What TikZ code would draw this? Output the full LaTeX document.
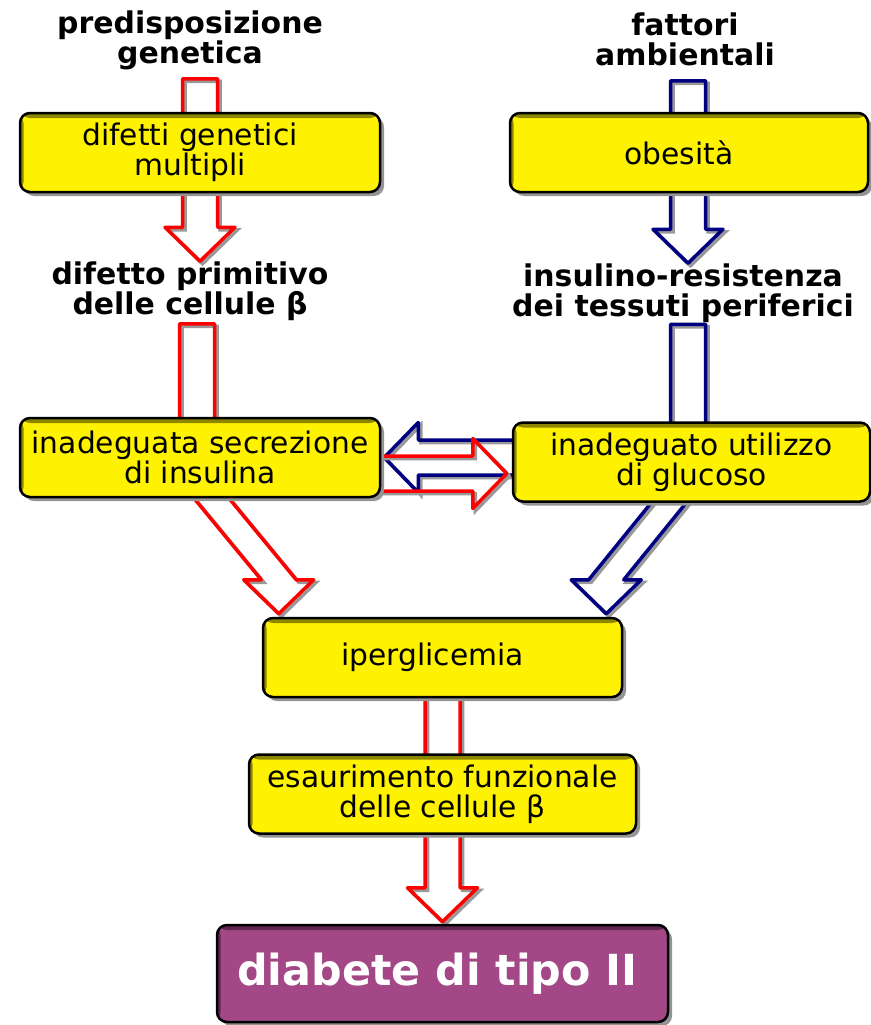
\documentclass[tikz,border=0pt]{standalone}
\usepackage{fontspec}
\setmainfont{DejaVu Sans}
\usepackage{tikz}
\usetikzlibrary{positioning,calc,shadows,backgrounds}

\definecolor{boxyellow}{RGB}{255,242,0}
\definecolor{boxedge}{RGB}{140,134,0}
\definecolor{endpurple}{RGB}{164,71,134}
\definecolor{endedge}{RGB}{96,38,80}
\definecolor{arrowred}{RGB}{255,0,0}
\definecolor{arrowblue}{RGB}{0,0,128}

\newcommand{\shafthalf}{17.5pt}
\newcommand{\headhalf}{35pt}
\newcommand{\headlen}{34pt}
\newcommand{\lpad}[1]{#1\hspace*{20pt}}

% straight hollow arrow: style, start, tip
\newcommand{\fatarrow}[3]{
  \coordinate (fa-s) at #2;
  \coordinate (fa-t) at #3;
  \coordinate (fa-h) at ($(fa-t)!\headlen!(fa-s)$);
  \draw[#1] ($(fa-s)!\shafthalf!90:(fa-t)$) -- ($(fa-h)!\shafthalf!90:(fa-t)$)
    -- ($(fa-h)!\headhalf!90:(fa-t)$) -- (fa-t) -- ($(fa-h)!\headhalf!-90:(fa-t)$)
    -- ($(fa-h)!\shafthalf!-90:(fa-t)$) -- ($(fa-s)!\shafthalf!-90:(fa-t)$) -- cycle;
}
% slanted shaft, head pointing straight down
\newcommand{\bentarrow}[3]{
  \coordinate (ba-s) at #2;
  \coordinate (ba-t) at #3;
  \coordinate (ba-h) at ($(ba-t)+(0pt,\headlen)$);
  \draw[#1] ($(ba-s)+(-\shafthalf,0pt)$) -- ($(ba-h)+(-\shafthalf,0pt)$)
    -- ($(ba-h)+(-\headhalf,0pt)$) -- (ba-t) -- ($(ba-h)+(\headhalf,0pt)$)
    -- ($(ba-h)+(\shafthalf,0pt)$) -- ($(ba-s)+(\shafthalf,0pt)$) -- cycle;
}

\begin{document}
\begin{tikzpicture}[x=1pt,y=-1pt,
lab/.style={font=\fontsize{29.9}{30}\selectfont\bfseries,align=center,inner sep=0pt},
edgeshade/.style={path picture={
    \fill[#1] (path picture bounding box.north west) rectangle ([yshift=-5pt]path picture bounding box.north east);
    \fill[#1] (path picture bounding box.north west) rectangle ([xshift=3.5pt]path picture bounding box.south west);}},
box/.style={draw=black,line width=2.5pt,rounded corners=10pt,fill=boxyellow,
    minimum height=79pt,align=center,inner sep=0pt,
    font=\fontsize{29.7}{30}\selectfont,edgeshade=boxedge,
    drop shadow={shadow xshift=4pt,shadow yshift=-4pt,opacity=1,fill=black!42}},
endbox/.style={box,fill=endpurple,text=white,edgeshade=endedge,
    font=\fontsize{42.8}{48}\selectfont\bfseries},
redarrow/.style={draw=arrowred,line width=3.5pt,line join=round,
    preaction={draw=black!40,line width=3.5pt,transform canvas={shift={(2.5pt,-2.5pt)}}}},
bluearrow/.style={redarrow,draw=arrowblue}]
\useasboundingbox (0,0) rectangle (870,1025);

% causes
\node (gen) at (190,40) [lab] {predisposizione\\genetica};
\node (amb) at (685,39) [lab] {fattori\\ambientali};
\node (prim) at (190,291) [lab] {difetto primitivo\\delle cellule β};
\node (res) at (683,293) [lab] {insulino-resistenza\\dei tessuti periferici};

% boxes
\node (mult) at (200,152.5) [box,minimum width=360pt] {\lpad{difetti genetici}\\\lpad{multipli}};
\node (obes) at (689,152.5) [box,minimum width=358pt] {\lpad{obesità}};
\node (secr) at (200,457.5) [box,minimum width=360pt] {inadeguata secrezione\\di insulina};
\node (util) at (691.5,462) [box,minimum width=357pt] {inadeguato utilizzo\\di glucoso};
\node (iper) at (442.5,657.5) [box,minimum width=359pt] {\lpad{iperglicemia}};
\node (esau) at (442.5,794) [box,minimum width=387pt] {esaurimento funzionale\\delle cellule β};
\node (diab) at (442.5,973.5) [endbox,minimum width=451pt,minimum height=97pt] {diabete di tipo II\hspace*{10pt}};

\begin{pgfonlayer}{background}
\fatarrow{redarrow}{($(mult.north)+(0,-33)$)}{($(mult.south)+(0,68)$)}
\fatarrow{bluearrow}{($(obes.north)+(-1,-31)$)}{($(obes.south)+(-1,70)$)}
\fatarrow{redarrow}{($(secr.north)+(-3,-93)$)}{($(secr.north)+(-3,70)$)}
\fatarrow{bluearrow}{($(util.north)+(-3.5,-97)$)}{($(util.north)+(-3.5,68)$)}
% mutual influence
\fatarrow{bluearrow}{($(util.west)+(20,-4.5)$)}{($(secr.east)+(3,0)$)}
\fatarrow{redarrow}{($(secr.east)+(-20,16)$)}{($(util.west)+(-5,11.5)$)}
\bentarrow{redarrow}{($(secr.south)+(-5,-20)$)}{($(iper.north west)+(17,-3)$)}
\bentarrow{bluearrow}{($(util.south)+(-6.5,-20)$)}{($(iper.north east)+(-17,-3)$)}
\fatarrow{redarrow}{($(iper.center)+(0,10)$)}{($(diab.north)+(0,-2)$)}
\end{pgfonlayer}
\end{tikzpicture}
\end{document}
